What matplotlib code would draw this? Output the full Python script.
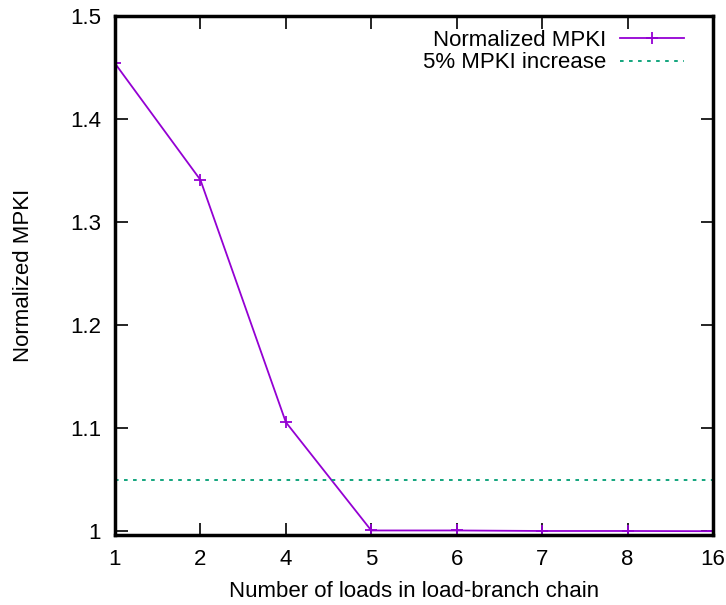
import matplotlib
matplotlib.use("Agg")
import matplotlib.pyplot as plt

# MPKI normalized to the unlimited-chain baseline
chain_lengths = ["1", "2", "4", "5", "6", "7", "8", "16"]
norm_mpki = [1.454, 1.341, 1.106, 1.001, 1.001, 1.0005, 1.0005, 1.0003]
threshold = 1.05

plt.rcParams["font.family"] = ["Liberation Sans", "DejaVu Sans"]
plt.rcParams["font.size"] = 16

fig = plt.figure(figsize=(7.26, 6.05), dpi=100)
ax = fig.add_axes([0.1584, 0.1157, 0.8236, 0.8579])

xs = range(len(chain_lengths))
ax.plot(xs, norm_mpki, color="#9400D3", lw=1.3, marker="+", ms=9, mew=1.3,
        label="Normalized MPKI")
ax.axhline(threshold, color="#009E73", lw=1.3, ls=(0, (2, 3)),
           label="5% MPKI increase")

ax.set_xlim(0, len(chain_lengths) - 1)
ax.set_ylim(0.9966, 1.5)
ax.set_xticks(list(xs))
ax.set_xticklabels(chain_lengths)
ax.set_yticks([1, 1.1, 1.2, 1.3, 1.4, 1.5])
ax.set_yticklabels(["1", "1.1", "1.2", "1.3", "1.4", "1.5"])
ax.tick_params(direction="in", length=9, width=1.2, top=True, right=True, pad=10)
for s in ax.spines.values():
    s.set_linewidth(2.5)

ax.set_xlabel("Number of loads in load-branch chain", labelpad=8)
ax.set_ylabel("Normalized MPKI", labelpad=26)

ax.legend(loc="upper right", bbox_to_anchor=(0.997, 1.025), frameon=False,
          markerfirst=False, handlelength=2.9, borderaxespad=0.9, borderpad=0.3,
          labelspacing=0.08, handletextpad=0.6)

fig.savefig("out.png", dpi=100)
